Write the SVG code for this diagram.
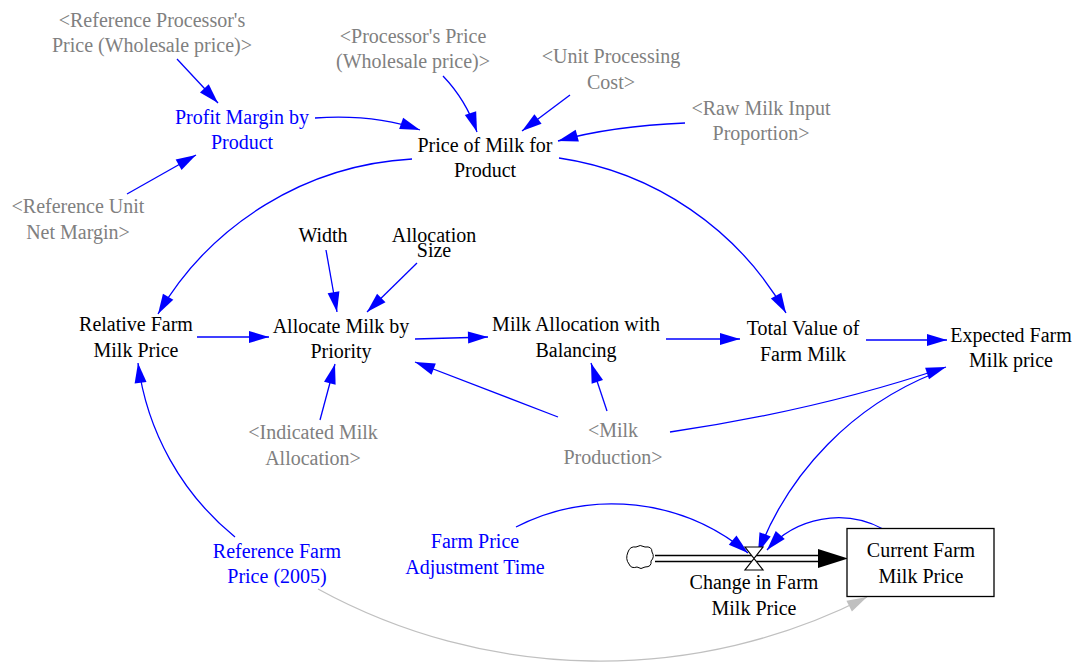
<svg xmlns="http://www.w3.org/2000/svg" width="1085" height="662" viewBox="0 0 1085 662">
<style>
text{font-size:20px;text-anchor:middle}
.k{fill:#000}
.g{fill:#808080}
.b{fill:#0000ff}
.c{fill:none;stroke:#0000ff;stroke-width:1.3}
.cg{fill:none;stroke:#c0c0c0;stroke-width:1.3}
</style>
<defs>
<marker id="ah" markerUnits="userSpaceOnUse" markerWidth="21" markerHeight="13" refX="20" refY="6" orient="auto" overflow="visible">
<path d="M0,0 L20,6 L0,12 z" fill="#0000ff"/>
</marker>
<marker id="ahg" markerUnits="userSpaceOnUse" markerWidth="21" markerHeight="13" refX="20" refY="6" orient="auto" overflow="visible">
<path d="M0,0 L20,6 L0,12 z" fill="#c0c0c0"/>
</marker>
</defs>

<g id="connectors">
<path class="c" marker-end="url(#ah)" d="M177,59 L218,103"/>
<path class="c" marker-end="url(#ah)" d="M127,194 L196,155"/>
<path class="c" marker-end="url(#ah)" d="M315,118 Q375,114 420,130"/>
<path class="c" marker-end="url(#ah)" d="M443,76 Q466,100 477,132"/>
<path class="c" marker-end="url(#ah)" d="M570,95 L522,131"/>
<path class="c" marker-end="url(#ah)" d="M685,123 Q612,126 558,141"/>
<path class="c" marker-end="url(#ah)" d="M412,159 A315,315 0 0 0 158,314"/>
<path class="c" marker-end="url(#ah)" d="M559,158 A314,314 0 0 1 786,313"/>
<path class="c" marker-end="url(#ah)" d="M326,250 L337,312"/>
<path class="c" marker-end="url(#ah)" d="M417,263 L367,312"/>
<path class="c" marker-end="url(#ah)" d="M197,337 L269,337"/>
<path class="c" marker-end="url(#ah)" d="M415,339 L488,337"/>
<path class="c" marker-end="url(#ah)" d="M666,339 L740,339"/>
<path class="c" marker-end="url(#ah)" d="M866,340 L947,340"/>
<path class="c" marker-end="url(#ah)" d="M320,420 L335,364"/>
<path class="c" marker-end="url(#ah)" d="M558,417 L415,362"/>
<path class="c" marker-end="url(#ah)" d="M607,411 L591,363"/>
<path class="c" marker-end="url(#ah)" d="M670,432 Q820,410 946,367"/>
<path class="c" marker-end="url(#ah)" d="M935,373 A314,314 0 0 0 758,553"/>
<path class="c" marker-end="url(#ah)" d="M516,527 A212,212 0 0 1 748,553"/>
<path class="c" marker-end="url(#ah)" d="M883,529 A95,95 0 0 0 767,550"/>
<path class="c" marker-end="url(#ah)" d="M235,537 A269,269 0 0 1 138,363"/>
<path class="cg" marker-end="url(#ahg)" d="M318,589 A588,588 0 0 0 867,597"/>
</g>

<g id="flow">
<path d="M628,552 q2,-6 8,-5 q4,-3 9,0 q7,-1 7,5 q3,5 -1,9 q1,6 -6,6 q-4,3 -8,0 q-6,2 -8,-3 q-4,-5 -1,-12 z" fill="#fff" stroke="#000" stroke-width="1"/>
<line x1="655" y1="555.5" x2="820" y2="555.5" stroke="#000" stroke-width="1.5"/>
<line x1="655" y1="561.5" x2="820" y2="561.5" stroke="#000" stroke-width="1.5"/>
<path d="M818,549 L848,558.5 L818,568 z" fill="#000"/>
<path d="M745,547 L763,547 L754,558.5 L763,570 L745,570 L754,558.5 z" fill="#fff" stroke="#000" stroke-width="1.2"/>
</g>

<g font-family="Liberation Serif, serif">
<g id="n-ref-proc"><text class="g" x="152" y="27">&lt;Reference Processor's</text><text class="g" x="152" y="52">Price (Wholesale price)&gt;</text></g>
<g id="n-proc-price"><text class="g" x="413" y="43">&lt;Processor's Price</text><text class="g" x="413" y="68">(Wholesale price)&gt;</text></g>
<g id="n-unit-proc"><text class="g" x="611" y="63">&lt;Unit Processing</text><text class="g" x="611" y="89">Cost&gt;</text></g>
<g id="n-raw-milk"><text class="g" x="761" y="115">&lt;Raw Milk Input</text><text class="g" x="761" y="140">Proportion&gt;</text></g>
<g id="n-profit"><text class="b" x="242" y="124">Profit Margin by</text><text class="b" x="242" y="149">Product</text></g>
<g id="n-price-milk"><text class="k" x="485" y="152">Price of Milk for</text><text class="k" x="485" y="177">Product</text></g>
<g id="n-ref-unit"><text class="g" x="78" y="213">&lt;Reference Unit</text><text class="g" x="78" y="239">Net Margin&gt;</text></g>
<g id="n-width"><text class="k" x="323" y="242">Width</text></g>
<g id="n-alloc-size"><text class="k" x="434" y="242">Allocation</text><text class="k" x="434" y="257">Size</text></g>
<g id="n-relative"><text class="k" x="136" y="331">Relative Farm</text><text class="k" x="136" y="357">Milk Price</text></g>
<g id="n-allocate"><text class="k" x="341" y="333">Allocate Milk by</text><text class="k" x="341" y="358">Priority</text></g>
<g id="n-milk-alloc"><text class="k" x="576" y="331">Milk Allocation with</text><text class="k" x="576" y="357">Balancing</text></g>
<g id="n-total"><text class="k" x="803" y="335">Total Value of</text><text class="k" x="803" y="361">Farm Milk</text></g>
<g id="n-expected"><text class="k" x="1011" y="342">Expected Farm</text><text class="k" x="1011" y="367">Milk price</text></g>
<g id="n-indicated"><text class="g" x="313" y="439">&lt;Indicated Milk</text><text class="g" x="313" y="465">Allocation&gt;</text></g>
<g id="n-milk-prod"><text class="g" x="613" y="437">&lt;Milk</text><text class="g" x="613" y="464">Production&gt;</text></g>
<g id="n-ref-farm"><text class="b" x="277" y="558">Reference Farm</text><text class="b" x="277" y="583">Price (2005)</text></g>
<g id="n-adj-time"><text class="b" x="475" y="548">Farm Price</text><text class="b" x="475" y="574">Adjustment Time</text></g>
<g id="n-change"><text class="k" x="754" y="589">Change in Farm</text><text class="k" x="754" y="615">Milk Price</text></g>
<g id="n-current"><rect x="847" y="528.5" width="147" height="68" fill="#fff" stroke="#000" stroke-width="1.3"/><text class="k" x="921" y="557">Current Farm</text><text class="k" x="921" y="583">Milk Price</text></g>
</g>
</svg>
